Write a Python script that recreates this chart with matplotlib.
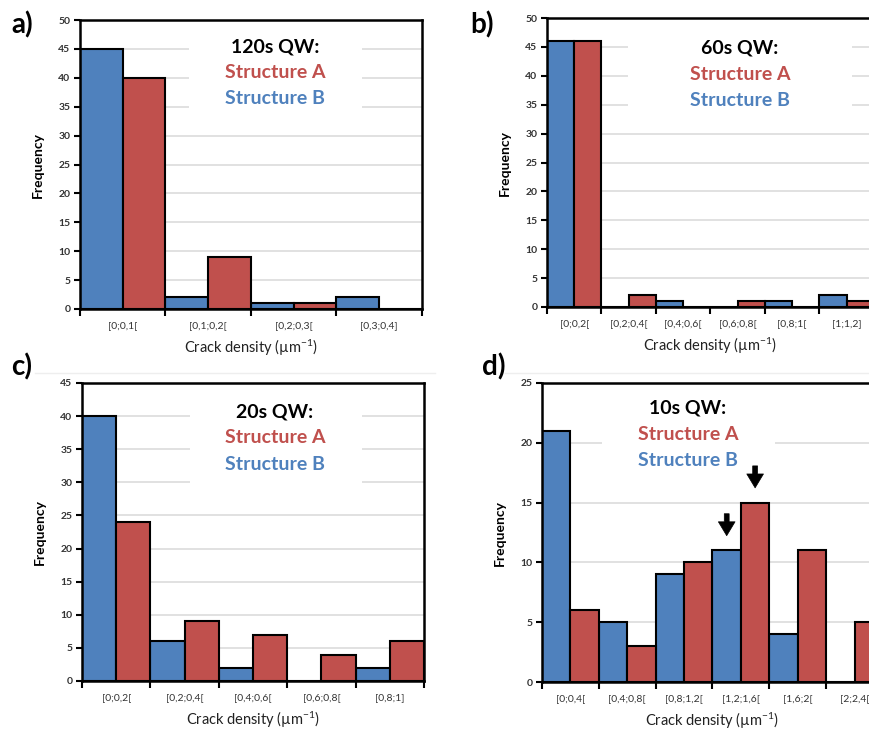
import matplotlib
matplotlib.use('Agg')
import matplotlib.pyplot as plt
from matplotlib.patches import Rectangle
from matplotlib.lines import Line2D
import numpy as np

plt.rcParams['font.family'] = ['Lato', 'DejaVu Sans']
plt.rcParams['mathtext.default'] = 'regular'

BLUE = '#4F81BD'
RED = '#C0504D'

# ---------------- data ----------------
a_labels = ['[0;0,1[', '[0,1;0,2[', '[0,2;0,3[', '[0,3;0,4]']
a_B = [45, 2, 1, 2]
a_A = [40, 9, 1, 0]

b_labels = ['[0;0,2[', '[0,2;0,4[', '[0,4;0,6[', '[0,6;0,8[', '[0,8;1[', '[1;1,2]']
b_B = [46, 0, 1, 0, 1, 2]
b_A = [46, 2, 0, 1, 0, 1]

c_labels = ['[0;0,2[', '[0,2;0,4[', '[0,4;0,6[', '[0,6;0,8[', '[0,8;1]']
c_B = [40, 6, 2, 0, 2]
c_A = [24, 9, 7, 4, 6]

d_labels = ['[0;0,4[', '[0,4;0,8[', '[0,8;1,2[', '[1,2;1,6[', '[1,6;2[', '[2;2,4[']
d_B = [21, 5, 9, 11, 4, 0]
d_A = [6, 3, 10, 15, 11, 5]

W, H = 870, 731
fig = plt.figure(figsize=(W / 100, H / 100), dpi=100)
fig.patch.set_facecolor('white')


def px_rect(left, top, right, bottom):
    return [left / W, 1 - bottom / H, (right - left) / W, (bottom - top) / H]


def panel(rect, labels, B, A, ymax, qw, tx, ty, box, ylabel_pad, xlabel_pad):
    ax = fig.add_axes(rect)
    n = len(labels)
    x = np.arange(n)
    ax.bar(x, B, width=0.5, align='edge', color=BLUE, edgecolor='black',
           linewidth=1.5, zorder=3)
    ax.bar(x + 0.5, A, width=0.5, align='edge', color=RED, edgecolor='black',
           linewidth=1.5, zorder=3)
    ax.set_xlim(0, n)
    ax.set_ylim(0, ymax)
    ax.set_yticks(np.arange(0, ymax + 1, 5))
    ax.set_xticks(np.arange(n + 1))
    ax.set_xticklabels([])
    ax.set_xticks(x + 0.5, minor=True)
    ax.set_xticklabels(labels, minor=True, fontsize=7.5, color='#333333')
    ax.tick_params(axis='x', which='major', length=5, width=1.5, direction='out')
    ax.tick_params(axis='x', which='minor', length=0, pad=9)
    ax.tick_params(axis='y', length=4, width=1.5, direction='out',
                   labelsize=7.5, labelcolor='#333333', pad=3)
    for lab in ax.get_yticklabels():
        lab.set_fontweight('bold')
    for sp in ax.spines.values():
        sp.set_linewidth(1.8)
        sp.set_zorder(4)
    ax.yaxis.grid(True, color='#dcdcdc', linewidth=1.2, zorder=0)
    ax.set_axisbelow(True)
    # white box behind annotation text
    ax.add_patch(Rectangle((box[0], box[2]), box[1] - box[0], box[3] - box[2],
                           transform=ax.transAxes, facecolor='white',
                           edgecolor='none', zorder=1))
    ax.text(tx, ty[0], qw, transform=ax.transAxes, ha='center', va='center',
            fontsize=14, fontweight='bold', color='black', zorder=5)
    ax.text(tx, ty[1], 'Structure A', transform=ax.transAxes, ha='center',
            va='center', fontsize=14, fontweight='bold', color=RED, zorder=5)
    ax.text(tx, ty[2], 'Structure B', transform=ax.transAxes, ha='center',
            va='center', fontsize=14, fontweight='bold', color=BLUE, zorder=5)
    ax.set_ylabel('Frequency', fontsize=10, fontweight='bold', labelpad=ylabel_pad)
    ax.set_xlabel('Crack density (µm$^{-1}$)', fontsize=10.5, labelpad=xlabel_pad,
                  color='#222222')
    return ax


axa = panel(px_rect(80, 20, 422, 309), a_labels, a_B, a_A, 50, '120s QW:',
            0.57, (0.907, 0.817, 0.727), (0.32, 0.825, 0.66, 0.93), 10, 5)
axb = panel(px_rect(547, 18, 874, 307), b_labels, b_B, b_A, 50, '60s QW:',
            0.59, (0.896, 0.806, 0.716), (0.248, 0.933, 0.66, 0.93), 10, 5)
axc = panel(px_rect(82, 383, 424, 681), c_labels, c_B, c_A, 45, '20s QW:',
            0.564, (0.903, 0.816, 0.725), (0.316, 0.819, 0.62, 0.94), 10, 5)
axd = panel(px_rect(542, 383, 883, 682), d_labels, d_B, d_A, 25, '10s QW:',
            0.428, (0.916, 0.829, 0.742), (0.176, 0.683, 0.74, 0.87), 10, 5)

# arrows marking the peaks in panel d (bin index 3)
peak = 3
for xoff, val in ((0.25, d_B[peak]), (0.75, d_A[peak])):
    axd.annotate('', xy=(peak + xoff, val + 1.0), xytext=(peak + xoff, val + 3.3),
                 arrowprops=dict(arrowstyle='simple,head_width=1.2,head_length=1.0,tail_width=0.35',
                                 color='black', lw=0.5), zorder=6)

# panel letters
for letter, (px, py) in {'a)': (22, 25), 'b)': (482, 25),
                         'c)': (22, 367), 'd)': (494, 367)}.items():
    fig.text(px / W, 1 - py / H, letter, ha='center', va='center',
             fontsize=20, fontweight='bold')

# faint seam lines from the original composite
fig.add_artist(Line2D([35 / W, 435 / W], [1 - 373 / H, 1 - 373 / H],
                      color='#eeeeee', lw=1))
fig.add_artist(Line2D([505 / W, 1.0], [1 - 373 / H, 1 - 373 / H],
                      color='#eeeeee', lw=1))

fig.savefig('out.png', dpi=100)
